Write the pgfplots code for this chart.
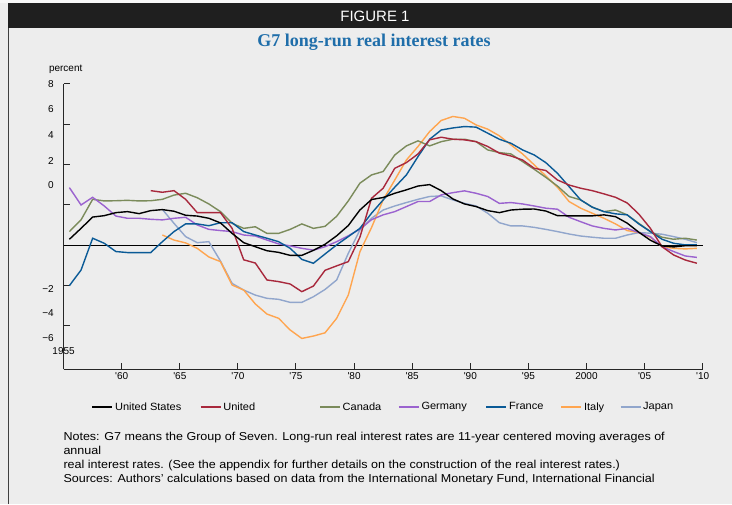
\documentclass[border=0pt]{standalone}
\usepackage{pgfplots}
\pgfplotsset{compat=1.18}
\usepackage{fontspec}
\setmainfont{Liberation Sans}
\newfontfamily\seriffont{Liberation Serif}
\newfontfamily\widesans[FakeStretch=1.09]{Liberation Sans}
\newfontfamily\legsans[FakeStretch=1.05]{Liberation Sans}
\definecolor{bg}{HTML}{EDEDED}
\definecolor{cUS}{HTML}{000000}
\definecolor{cUK}{HTML}{A8283C}
\definecolor{cCA}{HTML}{7B8B5B}
\definecolor{cDE}{HTML}{9B63CF}
\definecolor{cFR}{HTML}{0A5A96}
\definecolor{cIT}{HTML}{FFA54F}
\definecolor{cJP}{HTML}{91A6CC}
\definecolor{ttl}{HTML}{1F6EAA}

\pgfplotstableread{
x y
1955.5 0.30
1956.5 0.84
1957.5 1.40
1958.5 1.47
1959.5 1.62
1960.5 1.67
1961.5 1.57
1962.5 1.72
1963.5 1.77
1964.5 1.69
1965.5 1.49
1966.5 1.45
1967.5 1.34
1968.5 1.11
1969.5 0.59
1970.5 0.13
1971.5 -0.07
1972.5 -0.27
1973.5 -0.35
1974.5 -0.50
1975.5 -0.50
1976.5 -0.25
1977.5 0.05
1978.5 0.47
1979.5 0.98
1980.5 1.75
1981.5 2.27
1982.5 2.37
1983.5 2.58
1984.5 2.75
1985.5 2.94
1986.5 3.01
1987.5 2.71
1988.5 2.30
1989.5 2.05
1990.5 1.92
1991.5 1.72
1992.5 1.62
1993.5 1.75
1994.5 1.79
1995.5 1.80
1996.5 1.70
1997.5 1.47
1998.5 1.46
1999.5 1.46
2000.5 1.46
2001.5 1.51
2002.5 1.42
2003.5 1.10
2004.5 0.65
2005.5 0.25
2006.5 -0.03
2007.5 -0.08
2008.5 -0.02
2009.5 -0.02
}\dUS

\pgfplotstableread{
x y
1962.5 2.71
1963.5 2.63
1964.5 2.71
1965.5 2.28
1966.5 1.62
1967.5 1.62
1968.5 1.62
1969.5 0.84
1970.5 -0.72
1971.5 -0.88
1972.5 -1.72
1973.5 -1.80
1974.5 -1.92
1975.5 -2.30
1976.5 -2.02
1977.5 -1.24
1978.5 -1.02
1979.5 -0.81
1980.5 0.40
1981.5 2.33
1982.5 2.83
1983.5 3.82
1984.5 4.10
1985.5 4.53
1986.5 5.23
1987.5 5.36
1988.5 5.26
1989.5 5.23
1990.5 5.14
1991.5 4.90
1992.5 4.57
1993.5 4.43
1994.5 4.23
1995.5 3.82
1996.5 3.71
1997.5 3.24
1998.5 2.99
1999.5 2.83
2000.5 2.71
2001.5 2.55
2002.5 2.38
2003.5 2.10
2004.5 1.55
2005.5 0.84
2006.5 -0.07
2007.5 -0.48
2008.5 -0.73
2009.5 -0.89
}\dUK

\pgfplotstableread{
x y
1955.5 0.68
1956.5 1.26
1957.5 2.28
1958.5 2.20
1959.5 2.21
1960.5 2.23
1961.5 2.20
1962.5 2.21
1963.5 2.28
1964.5 2.49
1965.5 2.58
1966.5 2.36
1967.5 2.05
1968.5 1.67
1969.5 1.09
1970.5 0.84
1971.5 0.92
1972.5 0.59
1973.5 0.59
1974.5 0.79
1975.5 1.06
1976.5 0.84
1977.5 0.94
1978.5 1.44
1979.5 2.20
1980.5 3.08
1981.5 3.49
1982.5 3.66
1983.5 4.48
1984.5 4.93
1985.5 5.18
1986.5 4.93
1987.5 5.14
1988.5 5.26
1989.5 5.26
1990.5 5.14
1991.5 4.73
1992.5 4.60
1993.5 4.53
1994.5 4.15
1995.5 3.77
1996.5 3.37
1997.5 2.94
1998.5 2.42
1999.5 2.25
2000.5 1.89
2001.5 1.67
2002.5 1.75
2003.5 1.51
2004.5 1.09
2005.5 0.68
2006.5 0.40
2007.5 0.30
2008.5 0.35
2009.5 0.26
}\dCA

\pgfplotstableread{
x y
1955.5 2.86
1956.5 2.00
1957.5 2.38
1958.5 1.95
1959.5 1.45
1960.5 1.34
1961.5 1.34
1962.5 1.29
1963.5 1.26
1964.5 1.34
1965.5 1.39
1966.5 1.01
1967.5 0.79
1968.5 0.73
1969.5 0.68
1970.5 0.51
1971.5 0.46
1972.5 0.26
1973.5 0.07
1974.5 -0.03
1975.5 -0.15
1976.5 -0.24
1977.5 -0.07
1978.5 0.18
1979.5 0.47
1980.5 0.80
1981.5 1.27
1982.5 1.51
1983.5 1.67
1984.5 1.92
1985.5 2.17
1986.5 2.17
1987.5 2.50
1988.5 2.61
1989.5 2.70
1990.5 2.58
1991.5 2.42
1992.5 2.08
1993.5 2.12
1994.5 2.05
1995.5 1.95
1996.5 1.84
1997.5 1.79
1998.5 1.39
1999.5 1.17
2000.5 0.96
2001.5 0.84
2002.5 0.76
2003.5 0.84
2004.5 0.63
2005.5 0.43
2006.5 -0.07
2007.5 -0.31
2008.5 -0.53
2009.5 -0.60
}\dDE

\pgfplotstableread{
x y
1955.5 -2.00
1956.5 -1.23
1957.5 0.35
1958.5 0.10
1959.5 -0.31
1960.5 -0.36
1961.5 -0.36
1962.5 -0.36
1963.5 0.18
1964.5 0.68
1965.5 1.06
1966.5 1.06
1967.5 0.97
1968.5 1.12
1969.5 1.12
1970.5 0.68
1971.5 0.51
1972.5 0.35
1973.5 0.18
1974.5 -0.15
1975.5 -0.70
1976.5 -0.89
1977.5 -0.43
1978.5 0.02
1979.5 0.43
1980.5 0.84
1981.5 1.59
1982.5 2.25
1983.5 2.88
1984.5 3.49
1985.5 4.40
1986.5 5.26
1987.5 5.72
1988.5 5.82
1989.5 5.89
1990.5 5.86
1991.5 5.56
1992.5 5.26
1993.5 5.06
1994.5 4.73
1995.5 4.48
1996.5 4.10
1997.5 3.57
1998.5 2.91
1999.5 2.25
2000.5 1.89
2001.5 1.67
2002.5 1.56
2003.5 1.51
2004.5 1.06
2005.5 0.68
2006.5 0.30
2007.5 0.10
2008.5 0.02
2009.5 0.02
}\dFR

\pgfplotstableread{
x y
1963.5 0.51
1964.5 0.26
1965.5 0.12
1966.5 -0.15
1967.5 -0.58
1968.5 -0.81
1969.5 -1.97
1970.5 -2.22
1971.5 -2.91
1972.5 -3.41
1973.5 -3.62
1974.5 -4.20
1975.5 -4.62
1976.5 -4.50
1977.5 -4.34
1978.5 -3.62
1979.5 -2.47
1980.5 -0.32
1981.5 0.88
1982.5 2.25
1983.5 3.24
1984.5 4.23
1985.5 4.90
1986.5 5.64
1987.5 6.19
1988.5 6.39
1989.5 6.30
1990.5 5.97
1991.5 5.76
1992.5 5.43
1993.5 4.98
1994.5 4.53
1995.5 3.99
1996.5 3.44
1997.5 2.88
1998.5 2.17
1999.5 1.84
2000.5 1.59
2001.5 1.34
2002.5 1.06
2003.5 0.73
2004.5 0.63
2005.5 0.40
2006.5 -0.07
2007.5 -0.15
2008.5 -0.18
2009.5 -0.15
}\dIT

\pgfplotstableread{
x y
1963.5 1.78
1964.5 1.09
1965.5 0.43
1966.5 0.13
1967.5 0.18
1968.5 -0.78
1969.5 -1.89
1970.5 -2.22
1971.5 -2.47
1972.5 -2.63
1973.5 -2.68
1974.5 -2.83
1975.5 -2.83
1976.5 -2.55
1977.5 -2.19
1978.5 -1.72
1979.5 -0.40
1980.5 0.76
1981.5 1.34
1982.5 1.75
1983.5 1.95
1984.5 2.12
1985.5 2.28
1986.5 2.42
1987.5 2.45
1988.5 2.25
1989.5 2.08
1990.5 1.95
1991.5 1.59
1992.5 1.12
1993.5 0.96
1994.5 0.96
1995.5 0.89
1996.5 0.79
1997.5 0.68
1998.5 0.56
1999.5 0.46
2000.5 0.40
2001.5 0.35
2002.5 0.35
2003.5 0.51
2004.5 0.63
2005.5 0.60
2006.5 0.55
2007.5 0.43
2008.5 0.30
2009.5 0.13
}\dJP

\begin{document}
\begin{tikzpicture}[x=1pt,y=1pt]
\fill[bg] (0,0) rectangle (732,504);
\fill[white!97!black] (0,500.5) rectangle (732,504);
\fill[black!88] (8,476) rectangle (732,500.5);
\draw[black!75, line width=1pt] (8,0) -- (8,476);
\node[white, font=\fontsize{15}{17}\selectfont] at (375,488) {FIGURE 1};
\node[ttl, font=\seriffont\bfseries\fontsize{18}{20}\selectfont] at (374,462) {G7 long-run real interest rates};
\node[font=\fontsize{10}{12}\selectfont] at (65.7,434.7) {percent};

\begin{axis}[
  at={(63.6pt,134.7pt)}, anchor=south west,
  scale only axis, width=639.1pt, height=285.3pt,
  xmin=1955, xmax=2010, ymin=-6.15, ymax=8,
  clip=false,
  axis x line*=bottom, axis y line*=left,
  axis line style={line width=1pt, black!85},
  tick align=inside, major tick length=6pt,
  tick style={line width=1pt, black!85},
  xtick={1960,1965,...,2010},
  xticklabels={\textquotesingle60,\textquotesingle65,\textquotesingle70,\textquotesingle75,\textquotesingle80,\textquotesingle85,\textquotesingle90,\textquotesingle95,2000,\textquotesingle05,\textquotesingle10},
  ytick={-4,-2,2,4,6,8}, yticklabels={},
  extra y ticks={8,6.75,5.46,4.2,2.99,-2.17,-3.34,-4.58},
  extra y tick labels={8,6,4,2,0,−2,−4,−6},
  extra y tick style={major tick length=0pt, yticklabel style={xshift=-6.3pt}},
  ticklabel style={font=\fontsize{10}{12}\selectfont},
  legend columns=7,
  legend style={draw=none, fill=none, at={(axis description cs:0.039,-0.132)}, anchor=west,
    font=\legsans\fontsize{10.5}{12}\selectfont,
    /tikz/every even column/.append style={column sep=0pt}},
  legend cell align=left,
  legend image code/.code={\draw[#1] (0pt,0pt) -- (20pt,0pt);},
  every axis plot/.append style={line width=1.4pt},
]
\addlegendimage{cUS}\addlegendentry{\makebox[82.8pt][l]{United States}}
\addlegendimage{cUK}\addlegendentry{\makebox[94pt][l]{United}}
\addlegendimage{cCA}\addlegendentry{\makebox[53.4pt][l]{Canada}}
\addlegendimage{cDE}\addlegendentry{\makebox[62.2pt][l]{Germany}}
\addlegendimage{cFR}\addlegendentry{\makebox[49.5pt][l]{France}}
\addlegendimage{cIT}\addlegendentry{\makebox[33.8pt][l]{Italy}}
\addlegendimage{cJP}\addlegendentry{Japan}

\addplot[black, line width=1pt, forget plot] coordinates {(1955,0) (2010,0)};
\addplot[cJP, forget plot] table {\dJP};
\addplot[cIT, forget plot] table {\dIT};
\addplot[cCA, forget plot] table {\dCA};
\addplot[cDE, forget plot] table {\dDE};
\addplot[cFR, forget plot] table {\dFR};
\addplot[cUK, forget plot] table {\dUK};
\addplot[cUS, forget plot] table {\dUS};
\node[font=\fontsize{10}{12}\selectfont] at (axis cs:1955,-5.25) {1955};
\end{axis}

\node[anchor=base west, align=left, inner sep=0pt, font=\widesans\fontsize{11.5}{13.7}\selectfont] at (63.3,22) {Notes: G7 means the Group of Seven. Long-run real interest rates are 11-year centered moving averages of\\annual\\real interest rates. (See the appendix for further details on the construction of the real interest rates.)\\Sources: Authors’ calculations based on data from the International Monetary Fund, International Financial};
\end{tikzpicture}
\end{document}
